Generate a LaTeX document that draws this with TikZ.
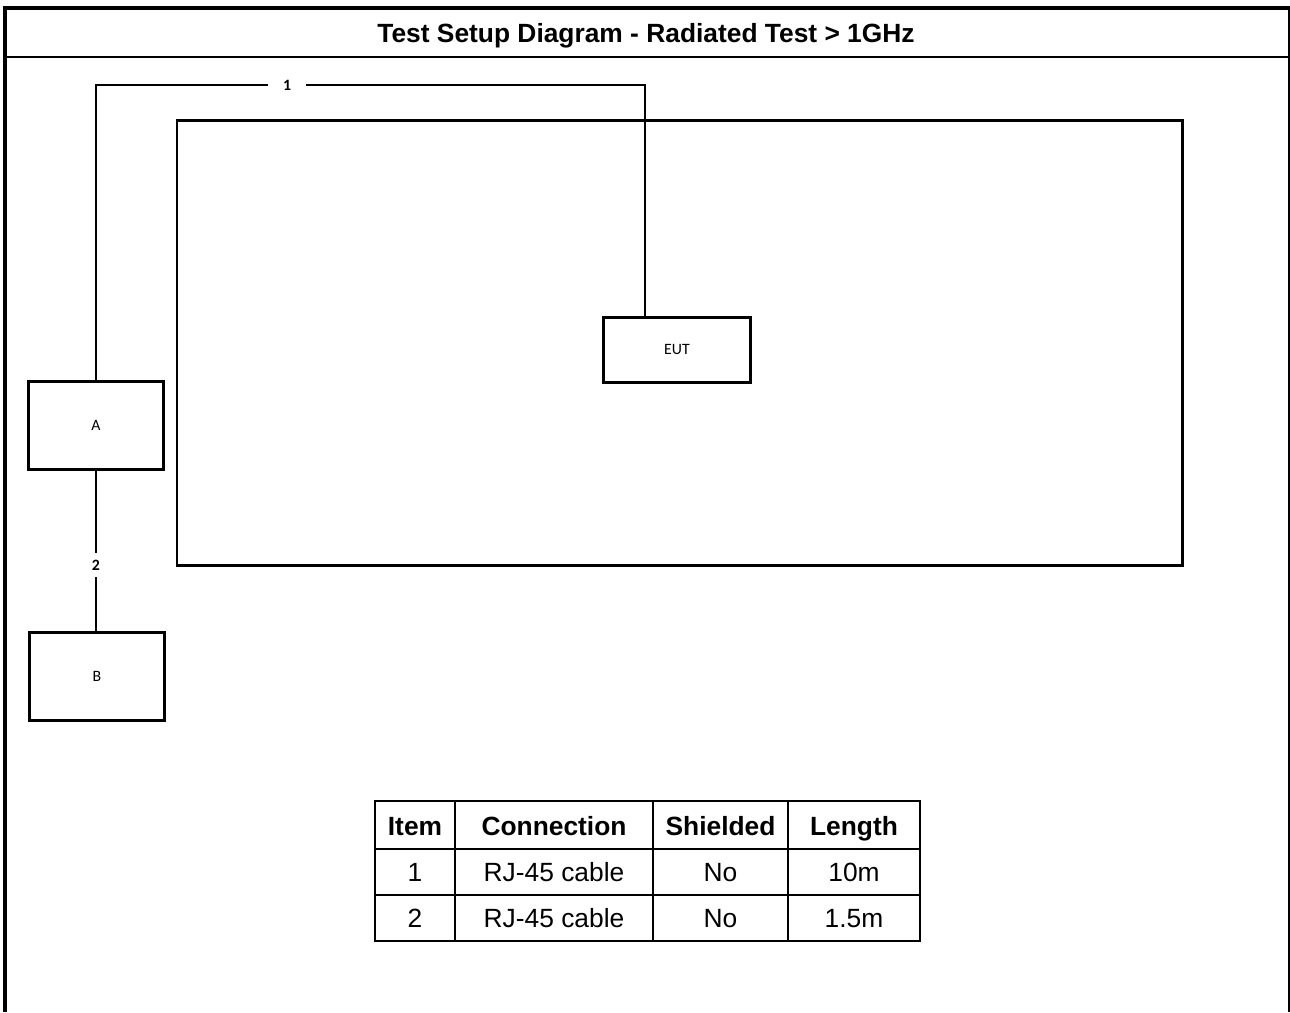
\documentclass[tikz,border=0pt]{standalone}
\usepackage{fontspec}
\setmainfont{Liberation Sans}
\newfontfamily\boxfont{Carlito}
\usepackage{tikz}
\usetikzlibrary{positioning}

\tikzset{
    unitbox/.style={draw, line width=1.7pt, inner sep=0pt, font=\boxfont\fontsize{9}{11}\selectfont},
    cable/.style={line width=0.9pt},
    cablelabel/.style={fill=white, inner xsep=0.3cm, inner ysep=0.14cm, font=\boxfont\bfseries\fontsize{9}{11}\selectfont},
    headcell/.style={anchor=base, font=\bfseries\fontsize{15}{18}\selectfont},
    bodycell/.style={anchor=base, font=\fontsize{15}{18}\selectfont},
    tablegrid/.style={line width=1.2pt}
}

\begin{document}
\begin{tikzpicture}[x=0.02cm, y=-0.02cm]
        \useasboundingbox (0,0) rectangle (1290,1012);

        % frame and title
        \draw[line width=2.3pt] (5,1012) -- (5,8);
        \draw[line width=2.3pt] (3,8) -- (1290,8);
        \draw[line width=1.1pt] (1289,8) -- (1289,1012);
        \draw[line width=1.3pt] (5,57) -- (1290,57);
        \node[headcell] (title) at (646,42.5) {Test Setup Diagram - Radiated Test > 1GHz};

        % test table outline
        \draw[line width=1.7pt] (177,120) rectangle (1182,565);

        % units
        \node[unitbox, minimum width=2.94cm, minimum height=1.3cm] (EUT) at (677,349.5) {EUT};
        \node[unitbox, minimum width=2.72cm, minimum height=1.76cm] (A) at (96,425) {A};
        \node[unitbox, minimum width=2.72cm, minimum height=1.76cm] (B) at (97,676.5) {B};

        % cables
        \coordinate (bend) at (645,85);
        \draw[cable] (A.north) |- node[cablelabel, pos=0.674] {1} (bend) -- (bend |- EUT.north);
        \draw[cable] (A.south) -- node[cablelabel, pos=0.59] {2} (A.south |- B.north);

        % cable list
        \draw[tablegrid] (375,801) rectangle (920,941);
        \draw[tablegrid] (455,801) -- (455,941);
        \draw[tablegrid] (653,801) -- (653,941);
        \draw[tablegrid] (788,801) -- (788,941);
        \draw[tablegrid] (375,849) -- (920,849);
        \draw[tablegrid] (375,895) -- (920,895);

        \node[headcell] (hItem) at (415,835) {Item};
        \node[headcell] (hConn) at (554,835) {Connection};
        \node[headcell] (hShield) at (720.5,835) {Shielded};
        \node[headcell] (hLength) at (854,835) {Length};

        \node[bodycell] (item1) at (415,881.5) {1};
        \node[bodycell] (conn1) at (554,881.5) {RJ-45 cable};
        \node[bodycell] (shield1) at (720.5,881.5) {No};
        \node[bodycell] (length1) at (854,881.5) {10m};

        \node[bodycell] (item2) at (415,927.5) {2};
        \node[bodycell] (conn2) at (554,927.5) {RJ-45 cable};
        \node[bodycell] (shield2) at (720.5,927.5) {No};
        \node[bodycell] (length2) at (854,927.5) {1.5m};
    \end{tikzpicture}
\end{document}
